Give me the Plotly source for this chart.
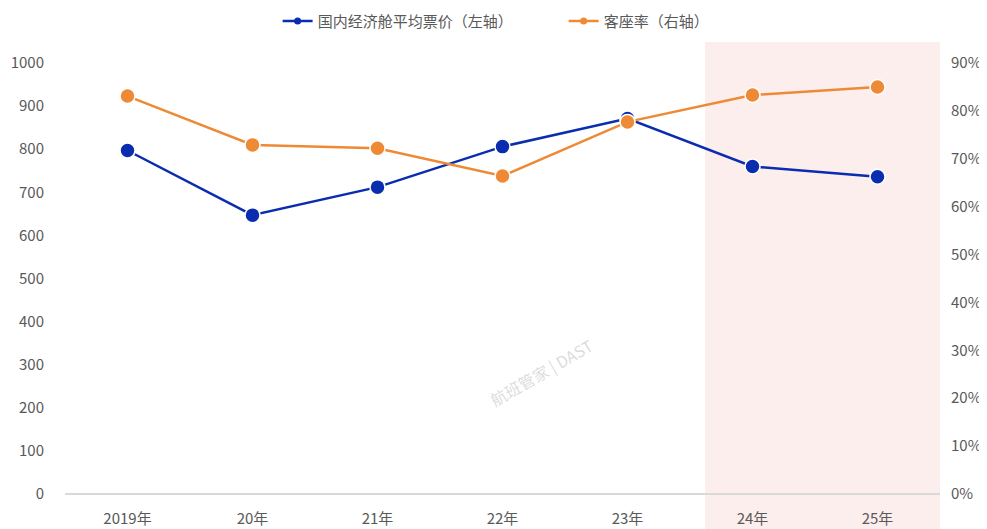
import plotly.graph_objects as go

categories = ["2019年", "20年", "21年", "22年", "23年", "24年", "25年"]
avg_fare = [797, 647, 712, 806, 871, 760, 736]
load_factor = [0.831, 0.729, 0.722, 0.664, 0.777, 0.833, 0.850]
left_ticks = [0, 100, 200, 300, 400, 500, 600, 700, 800, 900, 1000]
right_ticks = [0, 0.1, 0.2, 0.3, 0.4, 0.5, 0.6, 0.7, 0.8, 0.9]
fare_name = "国内经济舱平均票价（左轴）"
load_name = "客座率（右轴）"

BLUE = "#0a2db0"
ORANGE = "#ee8a35"
FONT = "Noto Sans CJK SC"

fig = go.Figure()
fig.add_trace(go.Scatter(
    x=categories, y=avg_fare, name=fare_name, showlegend=False,
    mode="lines+markers",
    line=dict(color=BLUE, width=2.5),
    marker=dict(color=BLUE, size=15, line=dict(color="white", width=1.5)),
    yaxis="y"))
fig.add_trace(go.Scatter(
    x=categories, y=load_factor, name=load_name, showlegend=False,
    mode="lines+markers",
    line=dict(color=ORANGE, width=2.5),
    marker=dict(color=ORANGE, size=15, line=dict(color="white", width=1.5)),
    yaxis="y2"))
# legend-only entries with small markers
fig.add_trace(go.Scatter(x=[None], y=[None], name=fare_name, mode="lines+markers",
                         line=dict(color=BLUE, width=2.5),
                         marker=dict(color=BLUE, size=7)))
fig.add_trace(go.Scatter(x=[None], y=[None], name=load_name, mode="lines+markers",
                         line=dict(color=ORANGE, width=2.5),
                         marker=dict(color=ORANGE, size=7), yaxis="y2"))

# highlighted forecast region (24年-25年)
fig.add_shape(type="rect", xref="x", yref="paper",
              x0=4.62, x1=6.5, y0=-0.2, y1=1.049,
              fillcolor="#fdeeee", line=dict(width=0), layer="below")

fig.add_annotation(text="航班管家 | DAST", xref="paper", yref="paper",
                   x=0.545, y=0.185, showarrow=False, textangle=-30,
                   font=dict(family=FONT, size=16, color="rgba(150,150,150,0.35)"))

fig.update_layout(
    width=979, height=521,
    margin=dict(l=57, r=47, t=55, b=35, autoexpand=False),
    paper_bgcolor="white", plot_bgcolor="rgba(0,0,0,0)",
    font=dict(family=FONT, size=15, color="#595959"),
    showlegend=True,
    legend=dict(orientation="h", x=0.243, xanchor="left", y=1.097, yanchor="middle",
                font=dict(size=15, color="#595959"), entrywidthmode="pixels",
                entrywidth=241, itemwidth=30, bgcolor="rgba(0,0,0,0)"),
    xaxis=dict(type="category", range=[-0.5, 6.5], showgrid=False, automargin=False,
               showline=False, zeroline=False, ticks="",
               ticklabelstandoff=14, tickfont=dict(size=15, color="#595959")),
    yaxis=dict(range=[0, 1000], tickvals=left_ticks, showgrid=False, automargin=False,
               zeroline=True, zerolinecolor="#d9d9d9", zerolinewidth=1.5,
               showline=False, ticklabelstandoff=20,
               tickfont=dict(size=15, color="#595959")),
    yaxis2=dict(range=[0, 0.9], tickvals=right_ticks, tickformat=".0%", automargin=False,
                overlaying="y", side="right", showgrid=False, zeroline=False,
                showline=False, ticklabelstandoff=10,
                tickfont=dict(size=15, color="#595959")),
)

fig.write_html("out.html")
